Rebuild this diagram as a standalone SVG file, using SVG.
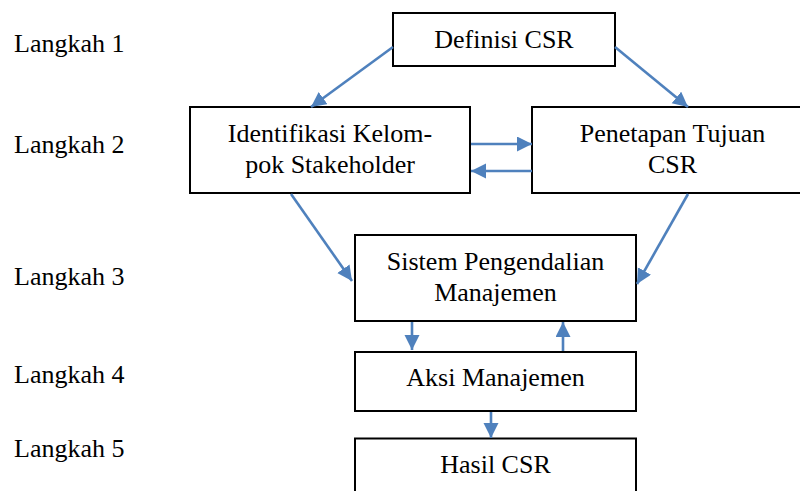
<svg xmlns="http://www.w3.org/2000/svg" width="800" height="491" viewBox="0 0 800 491">
<style>
text{font-family:"Liberation Serif","Times New Roman",serif;font-size:26px;fill:#000}
.c{text-anchor:middle}
.box{fill:#fff;stroke:#000;stroke-width:2}
.con{stroke:#4F81BD;stroke-width:2.6;fill:none;marker-end:url(#ah)}
</style>
<defs>
<marker id="ah" markerUnits="userSpaceOnUse" markerWidth="16" markerHeight="16" refX="15" refY="7.5" orient="auto">
<path d="M0,0 L15,7.5 L0,15 z" fill="#4F81BD"/>
</marker>
</defs>
<rect width="800" height="491" fill="#fff"/>
<g id="labels">
<text x="14" y="52">Langkah 1</text>
<text x="14" y="153">Langkah 2</text>
<text x="14" y="285">Langkah 3</text>
<text x="14" y="383">Langkah 4</text>
<text x="14" y="457">Langkah 5</text>
</g>
<g id="definisi"><rect class="box" x="393" y="13" width="222" height="53"/><text class="c" x="504" y="48">Definisi CSR</text></g>
<g id="identifikasi"><rect class="box" x="190" y="107" width="280" height="86"/><text class="c" x="330" y="142">Identifikasi Kelom-</text><text class="c" x="330" y="173">pok Stakeholder</text></g>
<g id="penetapan"><rect class="box" x="532" y="107" width="281" height="86"/><text class="c" x="672.5" y="142">Penetapan Tujuan</text><text class="c" x="672.5" y="173">CSR</text></g>
<g id="sistem"><rect class="box" x="355" y="235" width="281" height="86"/><text class="c" x="495.5" y="270">Sistem Pengendalian</text><text class="c" x="495.5" y="301">Manajemen</text></g>
<g id="aksi"><rect class="box" x="355" y="352" width="281" height="59"/><text class="c" x="495.5" y="386">Aksi Manajemen</text></g>
<g id="hasil"><rect class="box" x="355" y="438.5" width="281" height="80"/><text class="c" x="495.5" y="473">Hasil CSR</text></g>
<g id="connectors">
<line class="con" x1="393" y1="47" x2="311" y2="107"/>
<line class="con" x1="615" y1="47" x2="688" y2="107"/>
<line class="con" x1="471" y1="144" x2="532" y2="144"/>
<line class="con" x1="532" y1="171" x2="471" y2="171"/>
<line class="con" x1="291" y1="194" x2="352" y2="281"/>
<line class="con" x1="688" y1="194" x2="637" y2="284"/>
<line class="con" x1="412" y1="322" x2="412" y2="350"/>
<line class="con" x1="563" y1="351" x2="563" y2="322"/>
<line class="con" x1="491" y1="412" x2="491" y2="438"/>
</g>
</svg>
